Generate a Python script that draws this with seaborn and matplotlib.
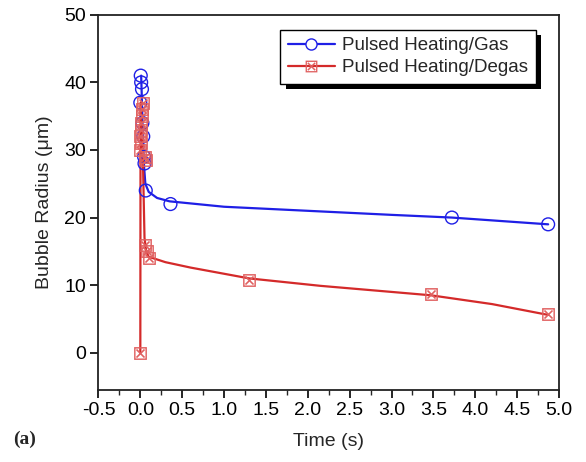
import matplotlib
matplotlib.use("Agg")
import matplotlib.pyplot as plt
import matplotlib.patheffects as pe
import seaborn as sns
import numpy as np
import pandas as pd
from matplotlib.lines import Line2D
from matplotlib.ticker import MultipleLocator

# ---- data ----
gas_t = [0.005, 0.01, 0.02, 0.0, 0.025, 0.035, 0.045, 0.05, 0.065, 0.36, 3.72, 4.87]
gas_r = [41, 40, 39, 37, 34, 32, 29, 28, 24, 22, 20, 19]

degas_t = [0.0, 0.0, 0.005, 0.0, 0.01, 0.005, 0.015, 0.02, 0.03, 0.06, 0.07,
           0.06, 0.08, 0.1, 1.3, 3.47, 4.87]
degas_r = [0, 30, 31, 32, 33, 34, 35, 36, 37, 29, 28.5, 16, 15, 14, 10.8, 8.7, 5.7]

# smooth fitted curves (as drawn in the figure)
gas_fit_t = [0.01, 0.02, 0.03, 0.045, 0.06, 0.1, 0.2, 0.35, 1.0, 2.0, 3.0, 3.72, 4.87]
gas_fit_r = [41, 37, 32, 27.5, 25.0, 23.8, 22.9, 22.4, 21.6, 21.0, 20.4, 20.0, 19.0]

degas_fit_t = [0.0, 0.003, 0.03, 0.05, 0.07, 0.1, 0.3, 0.6, 0.95, 1.3, 2.15, 3.0, 3.47, 4.2, 4.87]
degas_fit_r = [0, 37, 29, 17, 15, 14.2, 13.4, 12.6, 11.8, 11.0, 9.9, 9.0, 8.5, 7.2, 5.6]

x_ticks = [-0.5, 0.0, 0.5, 1.0, 1.5, 2.0, 2.5, 3.0, 3.5, 4.0, 4.5, 5.0]
y_ticks = [0, 10, 20, 30, 40, 50]
series_names = ["Pulsed Heating/Gas", "Pulsed Heating/Degas"]

BLUE = "#1f1fe6"
RED = "#d42a2a"
RED_M = "#e06060"

sns.set_theme(style="white")
plt.rcParams["font.family"] = ["Liberation Sans", "DejaVu Sans"]

fig = plt.figure(figsize=(5.86, 4.62), dpi=100)
ax = fig.add_axes([0.168, 0.156, 0.786, 0.812])

sns.lineplot(x=gas_fit_t, y=gas_fit_r, sort=False, estimator=None, ax=ax,
             color=BLUE, linewidth=1.6)
sns.lineplot(x=degas_fit_t, y=degas_fit_r, sort=False, estimator=None, ax=ax,
             color=RED, linewidth=1.6)

sns.scatterplot(x=gas_t, y=gas_r, ax=ax, marker="o", s=85,
                facecolor="none", edgecolor=BLUE, linewidth=1.0, zorder=3)
sns.scatterplot(x=degas_t, y=degas_r, ax=ax, marker=r"$\boxtimes$", s=85,
                color=RED_M, linewidth=0, zorder=3)

ax.set_xlim(-0.5, 5.0)
ax.set_ylim(-5.5, 50)
ax.set_xticks(x_ticks)
ax.set_xticklabels([f"{v:.1f}" for v in x_ticks])
ax.set_yticks(y_ticks)
ax.set_yticklabels([str(v) for v in y_ticks])
ax.xaxis.set_minor_locator(MultipleLocator(0.25))

ax.tick_params(axis="both", which="major", direction="out", length=6, width=1.2,
               labelsize=14, colors="black", bottom=True, left=True, pad=3)
ax.tick_params(axis="x", which="minor", direction="out", length=3.5, width=1.0,
               bottom=True)
for sp in ax.spines.values():
    sp.set_color("#222222")
    sp.set_linewidth(1.3)

ax.set_xlabel("Time (s)", fontsize=14, labelpad=10)
ax.set_ylabel("Bubble Radius (\u03bcm)", fontsize=14, labelpad=8)

handles = [
    Line2D([], [], color=BLUE, linewidth=1.6, marker="o", markersize=8,
           markerfacecolor="white", markeredgecolor=BLUE),
    Line2D([], [], color=RED, linewidth=1.6, marker=r"$\boxtimes$", markersize=8.5,
           markerfacecolor=RED_M, markeredgecolor=RED_M, markeredgewidth=0),
]
leg = ax.legend(handles, series_names, loc="upper right",
                bbox_to_anchor=(0.97, 0.985), fontsize=13.5, frameon=True,
                fancybox=False, edgecolor="black", framealpha=1,
                handlelength=2.5, borderpad=0.4, labelspacing=0.25,
                handletextpad=0.4)
frame = leg.get_frame()
frame.set_linewidth(1.0)
frame.set_path_effects([pe.SimplePatchShadow(offset=(4, -4), shadow_rgbFace="black",
                                             alpha=1.0), pe.Normal()])

fig.text(0.022, 0.04, "(a)", fontsize=14, fontweight="bold",
         family=["Liberation Serif", "DejaVu Serif"])

fig.savefig("out.png", dpi=100, facecolor="white")
